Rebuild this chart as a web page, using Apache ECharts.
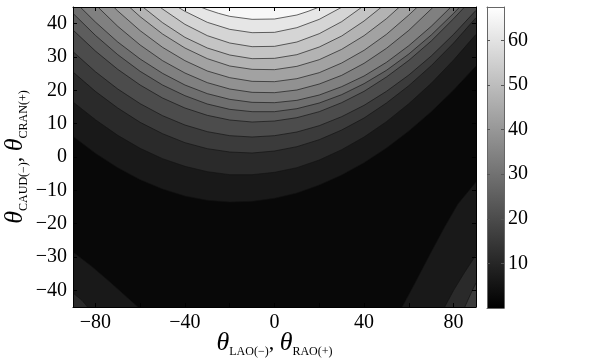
<!DOCTYPE html>
<html>
<head>
<meta charset="utf-8">
<script src="https://cdn.jsdelivr.net/npm/echarts@6/dist/echarts.min.js"></script>
<style>
  html, body { margin: 0; padding: 0; background: #fff; }
  #chart { width: 594px; height: 361px; }
</style>
</head>
<body>
<div id="chart"></div>
<script>
// contour levels (colorbar range 0 .. 67.5, 15 bands)
const levels = [0, 4.5, 9, 13.5, 18, 22.5, 27, 31.5, 36, 40.5, 45, 49.5, 54, 58.5, 63, 67.5];
const bandGray = [8, 25, 42, 59, 76, 93, 110, 128, 145, 162, 179, 196, 213, 230, 247];

const xTicks = [-80, -60, -40, -20, 0, 20, 40, 60, 80];
const xLabels = [-80, -40, 0, 40, 80];
const yTicks = [-40, -30, -20, -10, 0, 10, 20, 30, 40];
const cbTicks = [10, 20, 30, 40, 50, 60];

// upper family of contour lines, [x, y] (level 4.5 .. 63)
const upper1 = [[-90,6.2],[-80,1.1],[-70,-3.2],[-60,-6.8],[-50,-9.6],[-40,-11.7],[-30,-13.0],[-20,-13.5],[-10,-13.3],[0,-12.4],[10,-10.8],[20,-8.4],[30,-5.4],[40,-1.7],[50,2.7],[60,7.8],[70,13.6],[80,20.1],[90,27.3]];
const upper2 = [[-90,16.5],[-80,11.2],[-70,6.5],[-60,2.6],[-50,-0.5],[-40,-2.8],[-30,-4.4],[-20,-5.3],[-10,-5.3],[0,-4.6],[10,-3.2],[20,-0.9],[30,2.2],[40,6.0],[50,10.6],[60,16.0],[70,22.1],[80,29.1],[90,36.8]];
const upper3 = [[-90,25.5],[-80,19.7],[-70,14.7],[-60,10.4],[-50,7.0],[-40,4.3],[-30,2.5],[-20,1.5],[-10,1.2],[0,1.8],[10,3.1],[20,5.2],[30,8.1],[40,11.7],[50,16.2],[60,21.4],[70,27.4],[80,34.2],[90,41.8]];
const upper4 = [[-90,31.6],[-80,25.6],[-70,20.4],[-60,16.0],[-50,12.4],[-40,9.6],[-30,7.6],[-20,6.4],[-10,6.0],[0,6.4],[10,7.5],[20,9.4],[30,12.1],[40,15.5],[50,19.7],[60,24.6],[70,30.3],[80,36.8],[90,44.0]];
const upper5 = [[-90,38.1],[-80,31.8],[-70,26.3],[-60,21.6],[-50,17.7],[-40,14.7],[-30,12.5],[-20,11.1],[-10,10.5],[0,10.8],[10,11.8],[20,13.6],[30,16.3],[40,19.7],[50,24.0],[60,29.0],[70,34.8],[80,41.5],[84.9,45]];
const upper6 = [[-90,43.1],[-80,36.5],[-70,30.7],[-60,25.7],[-50,21.6],[-40,18.4],[-30,15.9],[-20,14.3],[-10,13.6],[0,13.6],[10,14.5],[20,16.2],[30,18.7],[40,22.0],[50,26.0],[60,30.9],[70,36.6],[80,43.1],[82.7,45]];
const upper7 = [[-86.8,45],[-80,40.5],[-70,34.5],[-60,29.4],[-50,25.1],[-40,21.6],[-30,19.0],[-20,17.3],[-10,16.4],[0,16.3],[10,17.0],[20,18.6],[30,21.1],[40,24.3],[50,28.4],[60,33.4],[70,39.2],[78.8,45]];
const upper8 = [[-78.9,45],[-70,39.2],[-60,33.6],[-50,28.9],[-40,25.2],[-30,22.3],[-20,20.4],[-10,19.4],[0,19.3],[10,20.1],[20,21.9],[30,24.5],[40,28.1],[50,32.6],[60,38.0],[70,44.4],[70.9,45]];
const upper9 = [[-71.8,45],[-70,43.8],[-60,37.9],[-50,32.9],[-40,28.9],[-30,25.8],[-20,23.8],[-10,22.7],[0,22.6],[10,23.5],[20,25.3],[30,28.2],[40,32.0],[50,36.8],[60,42.6],[63.8,45]];
const upper10 = [[-64.8,45],[-60,42.1],[-50,36.9],[-40,32.7],[-30,29.5],[-20,27.3],[-10,26.3],[0,26.2],[10,27.2],[20,29.2],[30,32.3],[40,36.4],[50,41.5],[55.8,45]];
const upper11 = [[-58.8,45],[-50,40.3],[-40,35.9],[-30,32.7],[-20,30.6],[-10,29.5],[0,29.6],[10,30.7],[20,33.0],[30,36.3],[40,40.8],[47.8,45]];
const upper12 = [[-51.1,45],[-50,44.4],[-40,39.8],[-30,36.4],[-20,34.2],[-10,33.1],[0,33.2],[10,34.5],[20,37.0],[30,40.6],[39.1,45]];
const upper13 = [[-43.2,45],[-40,43.7],[-30,40.4],[-20,38.3],[-10,37.3],[0,37.4],[10,38.8],[20,41.3],[30.2,45]];
const upper14 = [[-33,45],[-30,44.2],[-25,43.1],[-20,42.2],[-10,41.3],[0,41.4],[10,42.6],[15,43.7],[20,45]];

// corner families
const lowerLeft1 = [[-90,-28.5],[-82,-32.6],[-74,-37.2],[-66,-42.0],[-61,-45]];
const lowerLeft2 = [[-90,-40.8],[-86,-43],[-83.5,-45]];
const lowerRight1 = [[57,-45],[63,-37.5],[70,-28.5],[76,-21],[82,-14],[90,-7.5]];
const lowerRight2 = [[76,-45],[80,-40],[85,-34.5],[90,-29.4]];
const lowerRight3 = [[85,-45],[88,-40.5],[90,-37.8]];

const upperAll = [upper1, upper2, upper3, upper4, upper5, upper6, upper7, upper8, upper9, upper10, upper11, upper12, upper13, upper14];
const contours = [];
upperAll.forEach((pts, i) => contours.push({ pts, band: i + 1, close: [[95, 50], [-95, 50]] }));
[lowerLeft1, lowerLeft2].forEach((pts, i) => contours.push({ pts, band: i + 1, close: [[-95, -50]] }));
[lowerRight1, lowerRight2, lowerRight3].forEach((pts, i) => contours.push({ pts, band: i + 1, close: [[95, -50]] }));

const gray = v => `rgb(${v},${v},${v})`;
const minus = v => String(v).replace('-', '\u2212');
const serif = 'Liberation Serif';

const nameRich = {
  t: { fontFamily: serif, fontStyle: 'italic', fontSize: 26, lineHeight: 30, color: '#000', verticalAlign: 'middle' },
  s: { fontFamily: serif, fontSize: 12, lineHeight: 12, color: '#000', verticalAlign: 'bottom' },
  c: { fontFamily: serif, fontSize: 22, lineHeight: 30, color: '#000', verticalAlign: 'middle' }
};

const tickStyle = { inside: true, length: 4, lineStyle: { color: '#000', width: 1 } };
const labelStyle = { fontFamily: serif, fontSize: 20, color: '#000' };
const frame = color => ({ onZero: false, lineStyle: { color, width: 1 } });

const chart = echarts.init(document.getElementById('chart'));
chart.setOption({
  backgroundColor: '#fff',
  animation: false,
  grid: [
    { left: 73, top: 7, width: 403, height: 300, show: true, backgroundColor: gray(bandGray[0]), borderWidth: 0, outerBoundsMode: 'none' },
    { left: 487, top: 7, width: 17, height: 301, show: false, outerBoundsMode: 'none' }
  ],
  xAxis: [
    {
      gridIndex: 0, type: 'value', min: -90, max: 90, position: 'bottom', z: 10,
      axisLine: frame('#000'),
      axisTick: { ...tickStyle, customValues: xTicks },
      axisLabel: { ...labelStyle, margin: 6, customValues: xLabels, formatter: minus },
      splitLine: { show: false },
      name: '{t|θ}{s|LAO(−)}{c|, }{t|θ}{s|RAO(+)}',
      nameLocation: 'middle', nameGap: 21, nameMoveOverlap: false,
      nameTextStyle: { rich: nameRich }
    },
    {
      gridIndex: 0, type: 'value', min: -90, max: 90, position: 'top', z: 10,
      axisLine: frame('#000'),
      axisTick: { ...tickStyle, customValues: xTicks },
      axisLabel: { show: false },
      splitLine: { show: false }
    },
    {
      gridIndex: 1, type: 'value', min: 0, max: 1, position: 'bottom', z: 10,
      axisLine: frame('#666'),
      axisTick: { show: false }, axisLabel: { show: false }, splitLine: { show: false }
    },
    {
      gridIndex: 1, type: 'value', min: 0, max: 1, position: 'top', z: 10,
      axisLine: frame('#666'),
      axisTick: { show: false }, axisLabel: { show: false }, splitLine: { show: false }
    }
  ],
  yAxis: [
    {
      gridIndex: 0, type: 'value', min: -45, max: 45, position: 'left', z: 10,
      axisLine: frame('#000'),
      axisTick: { ...tickStyle, customValues: yTicks },
      axisLabel: { ...labelStyle, margin: 6, customValues: yTicks, formatter: minus },
      splitLine: { show: false },
      name: '{t|θ}{s|CAUD(−)}{c|, }{t|θ}{s|CRAN(+)}',
      nameLocation: 'middle', nameRotate: 90, nameGap: 43, nameMoveOverlap: false,
      nameTextStyle: { rich: nameRich }
    },
    {
      gridIndex: 0, type: 'value', min: -45, max: 45, position: 'right', z: 10,
      axisLine: frame('#000'),
      axisTick: { ...tickStyle, customValues: yTicks },
      axisLabel: { show: false },
      splitLine: { show: false }
    },
    {
      gridIndex: 1, type: 'value', min: 0, max: 67.5, position: 'right', z: 10,
      axisLine: frame('#666'),
      axisTick: { inside: true, length: 3, customValues: cbTicks, lineStyle: { color: '#555', width: 1 } },
      axisLabel: { ...labelStyle, margin: 4, customValues: cbTicks },
      splitLine: { show: false }
    },
    {
      gridIndex: 1, type: 'value', min: 0, max: 67.5, position: 'left', z: 10,
      axisLine: frame('#666'),
      axisTick: { inside: true, length: 3, customValues: cbTicks, lineStyle: { color: '#555', width: 1 } },
      axisLabel: { show: false },
      splitLine: { show: false }
    }
  ],
  series: [
    {
      type: 'custom',
      xAxisIndex: 0, yAxisIndex: 0,
      clip: true, silent: true,
      data: contours.map((c, i) => [i]),
      renderItem(params, api) {
        const c = contours[params.dataIndex];
        const line = c.pts.map(p => api.coord(p));
        const poly = c.pts.concat(c.close).map(p => api.coord(p));
        return {
          type: 'group',
          children: [
            { type: 'polygon', shape: { points: poly }, style: { fill: gray(bandGray[c.band]) } },
            { type: 'polyline', shape: { points: line }, style: { stroke: '#111', lineWidth: 0.8, opacity: 0.8, fill: null } }
          ]
        };
      }
    },
    {
      // colorbar: continuous gray ramp over the level range
      type: 'custom',
      xAxisIndex: 2, yAxisIndex: 2,
      silent: true,
      data: [[levels[0], levels[levels.length - 1]]],
      renderItem(params, api) {
        const a = api.coord([0, api.value(1)]);
        const b = api.coord([1, api.value(0)]);
        return {
          type: 'rect',
          shape: { x: a[0], y: a[1], width: b[0] - a[0], height: b[1] - a[1] },
          style: {
            fill: new echarts.graphic.LinearGradient(0, 0, 0, 1, [
              { offset: 0, color: '#fff' },
              { offset: 1, color: '#000' }
            ])
          }
        };
      }
    }
  ]
});
</script>
</body>
</html>
